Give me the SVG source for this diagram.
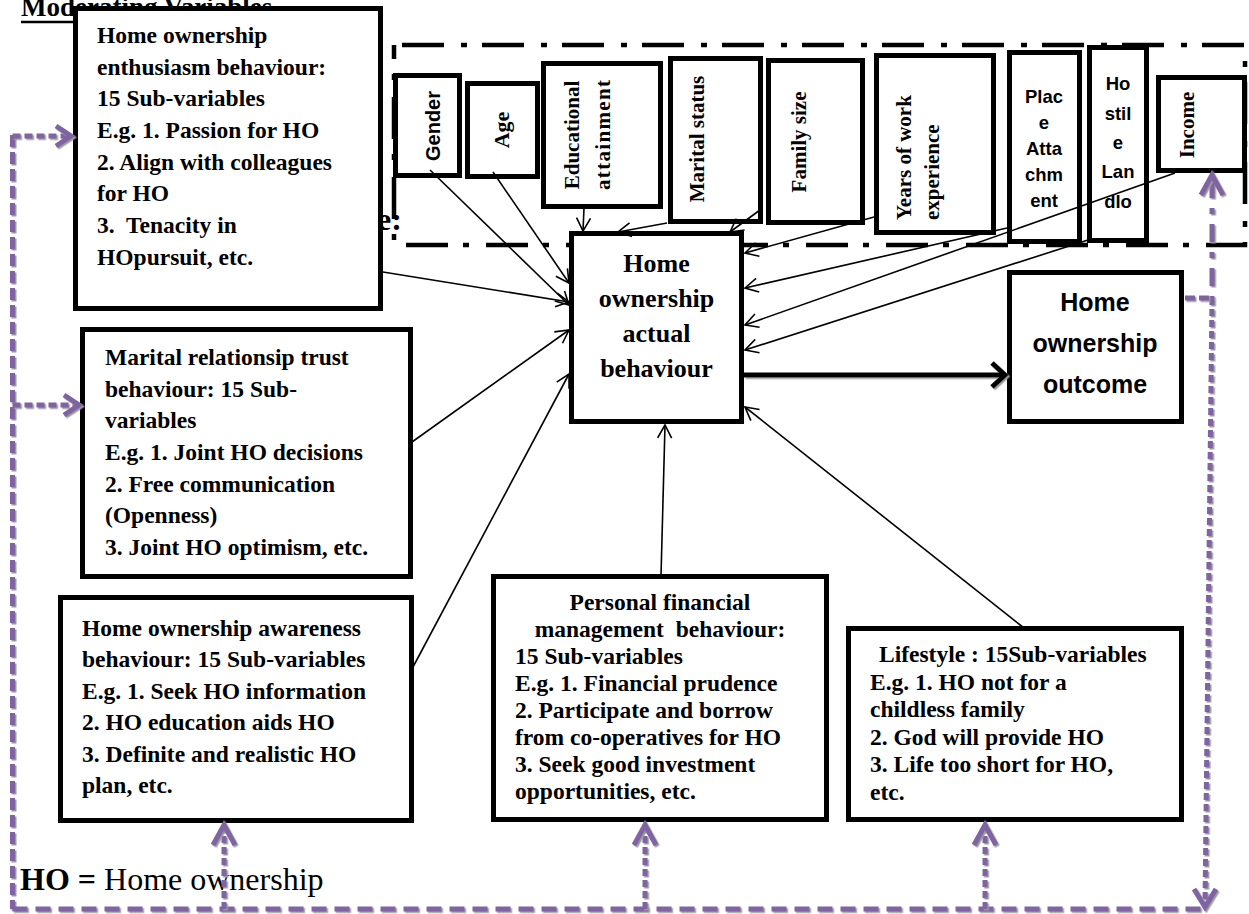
<svg xmlns="http://www.w3.org/2000/svg" width="1249" height="914" viewBox="0 0 1249 914">
<style>
.bx{fill:#fff;stroke:#000;stroke-width:5}
.t{font-family:"Liberation Serif","Times New Roman",serif;font-weight:bold;font-size:23.5px;fill:#000;white-space:pre}
.tv{font-family:"Liberation Serif","Times New Roman",serif;font-weight:bold;font-size:21px;fill:#000}
.ts{font-family:"Liberation Sans",Arial,sans-serif;font-weight:bold;fill:#000}
.c{fill:none;stroke:#000;stroke-width:1.6;marker-end:url(#ah)}
.p{fill:none;stroke:#8064A2;stroke-width:5;filter:url(#sh)}
.pd{stroke-dasharray:12 5}
.pb{stroke-dasharray:15 8}
.po{stroke-dasharray:7 4}
.ph{fill:none;stroke:#8064A2;stroke-width:5;filter:url(#sh)}
</style>
<defs>
<marker id="ah" markerUnits="userSpaceOnUse" markerWidth="20" markerHeight="20" refX="14" refY="8" orient="auto"><path d="M1,1 L14,8 L1,15" fill="none" stroke="#000" stroke-width="1.6"/></marker>
<filter id="sh" filterUnits="userSpaceOnUse" x="0" y="0" width="1249" height="914"><feDropShadow dx="1.5" dy="1.5" stdDeviation="0.3" flood-color="#9a9a9a" flood-opacity="1"/></filter>
</defs>
<rect width="1249" height="914" fill="#fff"/>

<g id="heading">
<text x="21" y="16" class="t" style="font-size:27px">Moderating Variables</text>
<line x1="21" y1="22" x2="276" y2="22" stroke="#000" stroke-width="2.5"/>
<text x="377" y="230" class="t" style="font-size:32px">e:</text>
</g>

<g id="moderating-frame">
<rect x="394" y="45" width="851" height="200" fill="none" stroke="#000" stroke-width="4.5" stroke-dasharray="42 17 6 15" stroke-dashoffset="-8"/>
</g>

<g id="enthusiasm">
<rect class="bx" x="75.5" y="8.5" width="305" height="300"/>
<text class="t" x="97" y="43">Home ownership</text>
<text class="t" x="97" y="75">enthusiasm behaviour:</text>
<text class="t" x="97" y="106">15 Sub-variables</text>
<text class="t" x="97" y="138">E.g. 1. Passion for HO</text>
<text class="t" x="97" y="170">2. Align with colleagues</text>
<text class="t" x="97" y="201">for HO</text>
<text class="t" x="97" y="233">3.  Tenacity in</text>
<text class="t" x="97" y="265">HOpursuit, etc.</text>
</g>

<g id="gender"><rect class="bx" x="395.5" y="75.5" width="64" height="100"/>
<text class="ts" style="font-size:20px" text-anchor="middle" transform="translate(440,126) rotate(-90)">Gender</text></g>
<g id="age"><rect class="bx" x="467.5" y="83.5" width="70" height="93"/>
<text class="tv" style="font-size:22px" text-anchor="middle" transform="translate(509,130) rotate(-90)">Age</text></g>
<g id="education"><rect class="bx" x="543.5" y="63.5" width="117" height="143"/>
<text class="tv" text-anchor="middle" transform="translate(579,135) rotate(-90)">Educational</text>
<text class="tv" text-anchor="middle" textLength="110" transform="translate(610,135) rotate(-90)">attainment</text></g>
<g id="marital-status"><rect class="bx" x="670.5" y="58.5" width="90" height="163"/>
<text class="tv" text-anchor="middle" transform="translate(704,139) rotate(-90)">Marital status</text></g>
<g id="family-size"><rect class="bx" x="768.5" y="60.5" width="94" height="162"/>
<text class="tv" text-anchor="middle" transform="translate(806,142) rotate(-90)">Family size</text></g>
<g id="work-experience"><rect class="bx" x="876.5" y="55.5" width="117" height="177"/>
<text class="tv" transform="translate(911,220) rotate(-90)">Years of work</text>
<text class="tv" transform="translate(939,220) rotate(-90)">experience</text></g>
<g id="place-attachment"><rect class="bx" x="1009.5" y="52.5" width="70" height="189"/>
<g class="ts" style="font-size:18.5px" text-anchor="middle">
<text x="1044" y="103">Plac</text><text x="1044" y="129">e</text><text x="1044" y="155">Atta</text><text x="1044" y="181">chm</text><text x="1044" y="207">ent</text></g></g>
<g id="hostile-landlord"><rect class="bx" x="1089.5" y="47.5" width="57" height="193"/>
<g class="ts" style="font-size:18.5px" text-anchor="middle">
<text x="1118" y="90">Ho</text><text x="1118" y="120">stil</text><text x="1118" y="149">e</text><text x="1118" y="178">Lan</text><text x="1118" y="208">dlo</text></g></g>
<g id="income"><rect class="bx" x="1158.5" y="77.5" width="86" height="93"/>
<text class="tv" text-anchor="middle" transform="translate(1194,125) rotate(-90)">Income</text></g>

<g id="actual-behaviour"><rect class="bx" x="571.5" y="233.5" width="170" height="188"/>
<g class="t" style="font-size:26px" text-anchor="middle">
<text x="656.5" y="272">Home</text><text x="656.5" y="307">ownership</text><text x="656.5" y="342">actual</text><text x="656.5" y="377">behaviour</text></g></g>

<g id="outcome"><rect class="bx" x="1009.5" y="272.5" width="172" height="149"/>
<g class="ts" style="font-size:25px" text-anchor="middle">
<text x="1095" y="311">Home</text><text x="1095" y="352">ownership</text><text x="1095" y="393">outcome</text></g></g>

<g id="marital-trust"><rect class="bx" x="82.5" y="329.5" width="328" height="247"/>
<text class="t" x="105" y="365">Marital relationsip trust</text>
<text class="t" x="105" y="397">behaviour: 15 Sub-</text>
<text class="t" x="105" y="428">variables</text>
<text class="t" x="105" y="460">E.g. 1. Joint HO decisions</text>
<text class="t" x="105" y="492">2. Free communication</text>
<text class="t" x="105" y="523">(Openness)</text>
<text class="t" x="105" y="555">3. Joint HO optimism, etc.</text>
</g>

<g id="awareness"><rect class="bx" x="60.5" y="597.5" width="351" height="223"/>
<text class="t" x="82" y="636">Home ownership awareness</text>
<text class="t" x="82" y="667">behaviour: 15 Sub-variables</text>
<text class="t" x="82" y="699">E.g. 1. Seek HO information</text>
<text class="t" x="82" y="730">2. HO education aids HO</text>
<text class="t" x="82" y="762">3. Definite and realistic HO</text>
<text class="t" x="82" y="793">plan, etc.</text>
</g>

<g id="financial"><rect class="bx" x="493.5" y="576.5" width="333" height="243"/>
<text class="t" x="660" y="610" text-anchor="middle">Personal financial</text>
<text class="t" x="660" y="637" text-anchor="middle">management  behaviour:</text>
<text class="t" x="515" y="664">15 Sub-variables</text>
<text class="t" x="515" y="691">E.g. 1. Financial prudence</text>
<text class="t" x="515" y="718">2. Participate and borrow</text>
<text class="t" x="515" y="745">from co-operatives for HO</text>
<text class="t" x="515" y="772">3. Seek good investment</text>
<text class="t" x="515" y="799">opportunities, etc.</text>
</g>

<g id="lifestyle"><rect class="bx" x="848.5" y="628.5" width="333" height="191"/>
<text class="t" x="879" y="662">Lifestyle : 15Sub-variables</text>
<text class="t" x="870" y="690">E.g. 1. HO not for a</text>
<text class="t" x="870" y="717">childless family</text>
<text class="t" x="870" y="745">2. God will provide HO</text>
<text class="t" x="870" y="772">3. Life too short for HO,</text>
<text class="t" x="870" y="800">etc.</text>
</g>

<g id="legend">
<text x="20" y="890" style="font-family:'Liberation Serif','Times New Roman',serif;font-size:32px" fill="#000"><tspan font-weight="bold">HO =</tspan> Home ownership</text>
</g>

<g id="connectors">
<path class="c" d="M430,170 L569,305"/>
<path class="c" d="M493,172 L569,283"/>
<path class="c" d="M383,272 L569,302"/>
<path class="c" d="M412,442 L569,330"/>
<path class="c" d="M413,667 L569,374"/>
<path class="c" d="M584,208 L583,231"/>
<path class="c" d="M667,223 L618,232"/>
<path class="c" d="M760,210 L730,232"/>
<path class="c" d="M874,217 L745,253"/>
<path class="c" d="M1007,228 L745,288"/>
<path class="c" d="M1175,173 L745,325"/>
<path class="c" d="M1088,240 L745,350"/>
<path class="c" d="M661,576 L665,425"/>
<path class="c" d="M1024,628 L745,407"/>
<g filter="url(#sh)">
<path d="M744,375 L1002,375" fill="none" stroke="#000" stroke-width="5"/>
<path d="M992,363 L1005,375 L992,387" fill="none" stroke="#000" stroke-width="5"/>
</g>
<path class="p pd" d="M12.5,135 L12.5,909"/>
<path class="p" stroke-dasharray="8 4" d="M12.5,136 L68,136"/>
<path class="ph" d="M56,126 L71,136 L56,146"/>
<path class="p" stroke-dasharray="8 4" d="M12.5,405 L77,405"/>
<path class="ph" d="M64,395 L79,405 L64,415"/>
<path class="p pb" d="M12.5,909 L1205,909"/>
<path class="p po" d="M224,909 L224,828"/>
<path class="ph" d="M213,845 L224,825 L235,845"/>
<path class="p po" d="M645,909 L645,828"/>
<path class="ph" d="M634,845 L645,825 L656,845"/>
<path class="p po" d="M985,909 L985,828"/>
<path class="ph" d="M974,845 L985,825 L996,845"/>
<path class="p" stroke-dasharray="18 10 6 10" d="M1212,180 L1212,298"/>
<path class="p po" d="M1212,298 L1205,904"/>
<path class="ph" d="M1201,195 L1212,175 L1223,195"/>
<path class="ph" d="M1194,889 L1205,907 L1216,889"/>
<path class="p" stroke-dasharray="10 4" d="M1185,298 L1212,298"/>
</g>
</svg>
